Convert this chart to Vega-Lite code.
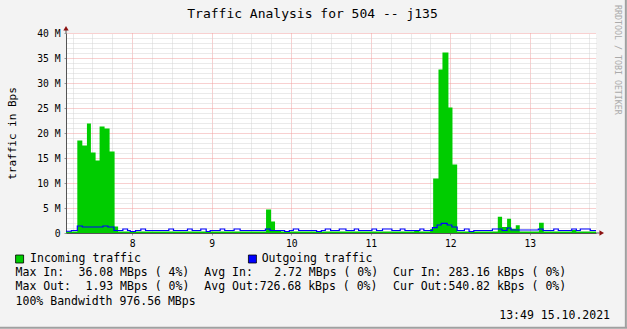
{
  "$schema": "https://vega.github.io/schema/vega-lite/v6.json",
  "width": 530,
  "height": 200,
  "autosize": {"type": "none"},
  "padding": {"left": 66, "top": 33, "right": 31, "bottom": 96},
  "background": "#F3F3F3",
  "config": {"view": {"fill": "#FFFFFF", "stroke": null}, "font": "DejaVu Sans Mono"},
  "layer": [
    {
      "resolve": {"axis": {"x": "independent", "y": "independent"}},
      "layer": [
        {
          "data": {"values": [
            {"t": 7.1667, "v": 0.3}, {"t": 7.309, "v": 18.5}, {"t": 7.372, "v": 17.5}, {"t": 7.430, "v": 21.9},
            {"t": 7.480, "v": 16.1}, {"t": 7.539, "v": 14.5}, {"t": 7.589, "v": 21.3}, {"t": 7.652, "v": 20.9},
            {"t": 7.715, "v": 16.3}, {"t": 7.778, "v": 1.3}, {"t": 7.822, "v": 0.3}, {"t": 9.683, "v": 4.7},
            {"t": 9.746, "v": 2.3}, {"t": 9.796, "v": 0.5}, {"t": 9.872, "v": 0.3}, {"t": 11.547, "v": 0.6},
            {"t": 11.609, "v": 0.3}, {"t": 11.747, "v": 0.8}, {"t": 11.785, "v": 10.9}, {"t": 11.852, "v": 32.7},
            {"t": 11.902, "v": 36.08}, {"t": 11.977, "v": 25.1}, {"t": 12.028, "v": 13.7}, {"t": 12.087, "v": 0.3},
            {"t": 12.598, "v": 3.26}, {"t": 12.652, "v": 1.2}, {"t": 12.715, "v": 2.86}, {"t": 12.765, "v": 0.86},
            {"t": 12.824, "v": 1.53}, {"t": 12.874, "v": 0.3}, {"t": 13.117, "v": 2.06}, {"t": 13.176, "v": 0.3},
            {"t": 13.528, "v": 0.6}, {"t": 13.586, "v": 0.3}, {"t": 13.8333, "v": 0.3}
          ]},
          "mark": {"type": "area", "interpolate": "step-after", "color": "#00CC00"},
          "encoding": {
            "x": {
              "field": "t", "type": "quantitative",
              "scale": {"domain": [7.1667, 13.8333], "nice": false, "zero": false},
              "axis": {
                "orient": "bottom",
                "title": null,
                "values": [8, 9, 10, 11, 12, 13],
                "grid": true,
                "gridColor": "#F0A0A0",
                "gridDash": [1, 1],
                "gridWidth": 1,
                "domainColor": "#555555",
                "domainWidth": 1,
                "ticks": true,
                "tickSize": 2,
                "tickColor": "#999999",
                "labelExpr": "(datum.value < 10 ? '\u00a0' : '') + datum.value",
                "labelFont": "DejaVu Sans Mono",
                "labelFontSize": 9.7,
                "labelColor": "#000000",
                "labelPadding": 3,
                "labelOverlap": false,
                "labelFlush": false
              }
            },
            "y": {
              "field": "v", "type": "quantitative",
              "scale": {"domain": [0, 40], "nice": false},
              "axis": {
                "orient": "left",
                "title": "traffic in Bps",
                "titleFont": "DejaVu Sans Mono",
                "titleFontSize": 11,
                "titleFontWeight": "normal",
                "titleColor": "#000000",
                "titleBaseline": "alphabetic",
                "titlePadding": 21.5,
                "values": [0, 5, 10, 15, 20, 25, 30, 35, 40],
                "grid": true,
                "gridColor": "#F0A0A0",
                "gridDash": [1, 1],
                "gridWidth": 1,
                "domainColor": "#555555",
                "domainWidth": 1,
                "ticks": true,
                "tickSize": 2,
                "tickColor": "#999999",
                "labelExpr": "datum.value === 0 ? '0' : datum.value + ' M'",
                "labelFont": "DejaVu Sans Mono",
                "labelFontSize": 9.7,
                "labelColor": "#000000",
                "labelPadding": 4,
                "labelOverlap": false,
                "labelFlush": false
              }
            }
          }
        },
        {
          "data": {"values": [
            {"t": 7.1667, "v": 0.35}, {"t": 7.234, "v": 0.5}, {"t": 7.309, "v": 1.4}, {"t": 7.372, "v": 1.2},
            {"t": 7.631, "v": 1.4}, {"t": 7.694, "v": 1.2}, {"t": 7.770, "v": 0.5}, {"t": 7.882, "v": 0.8},
            {"t": 7.941, "v": 0.5}, {"t": 7.975, "v": 0.3}, {"t": 8.041, "v": 0.5}, {"t": 8.108, "v": 0.8},
            {"t": 8.167, "v": 0.5}, {"t": 8.460, "v": 0.8}, {"t": 8.519, "v": 0.5}, {"t": 8.695, "v": 0.8},
            {"t": 8.754, "v": 0.5}, {"t": 8.862, "v": 0.8}, {"t": 8.930, "v": 0.3}, {"t": 8.980, "v": 0.5},
            {"t": 9.106, "v": 0.8}, {"t": 9.163, "v": 0.5}, {"t": 9.281, "v": 0.8}, {"t": 9.357, "v": 0.5},
            {"t": 9.675, "v": 0.8}, {"t": 9.734, "v": 0.5}, {"t": 9.917, "v": 0.3}, {"t": 9.976, "v": 0.5},
            {"t": 10.026, "v": 0.8}, {"t": 10.093, "v": 0.5}, {"t": 10.319, "v": 0.3}, {"t": 10.378, "v": 0.5},
            {"t": 10.428, "v": 0.8}, {"t": 10.495, "v": 0.5}, {"t": 10.604, "v": 0.8}, {"t": 10.688, "v": 0.5},
            {"t": 10.793, "v": 0.8}, {"t": 10.847, "v": 0.5}, {"t": 11.015, "v": 0.8}, {"t": 11.073, "v": 0.5},
            {"t": 11.148, "v": 0.8}, {"t": 11.266, "v": 0.5}, {"t": 11.371, "v": 0.8}, {"t": 11.430, "v": 0.5},
            {"t": 11.618, "v": 0.8}, {"t": 11.668, "v": 0.5}, {"t": 11.776, "v": 1.06}, {"t": 11.835, "v": 1.6},
            {"t": 11.886, "v": 1.93}, {"t": 11.961, "v": 1.6}, {"t": 12.020, "v": 1.2}, {"t": 12.087, "v": 0.5},
            {"t": 12.178, "v": 0.8}, {"t": 12.237, "v": 0.3}, {"t": 12.296, "v": 0.5}, {"t": 12.530, "v": 0.8},
            {"t": 12.652, "v": 0.5}, {"t": 12.715, "v": 1.0}, {"t": 12.765, "v": 0.6}, {"t": 13.108, "v": 0.8},
            {"t": 13.167, "v": 0.5}, {"t": 13.302, "v": 0.8}, {"t": 13.359, "v": 0.5}, {"t": 13.528, "v": 0.8},
            {"t": 13.586, "v": 0.5}, {"t": 13.636, "v": 0.8}, {"t": 13.761, "v": 0.5}, {"t": 13.8333, "v": 0.5}
          ]},
          "mark": {"type": "line", "interpolate": "step-after", "color": "#0000FF", "strokeWidth": 1.2},
          "encoding": {
            "x": {
              "field": "t", "type": "quantitative",
              "axis": {
                "orient": "top",
                "title": null,
                "values": [7.25, 7.5, 7.75, 8.25, 8.5, 8.75, 9.25, 9.5, 9.75, 10.25, 10.5, 10.75, 11.25, 11.5, 11.75, 12.25, 12.5, 12.75, 13.25, 13.5, 13.75],
                "grid": true,
                "gridColor": "#D4D4D4",
                "gridDash": [1, 1],
                "gridWidth": 1,
                "domain": false,
                "ticks": false,
                "labels": false
              }
            },
            "y": {
              "field": "v", "type": "quantitative",
              "axis": {
                "orient": "right",
                "title": null,
                "values": [1, 2, 3, 4, 6, 7, 8, 9, 11, 12, 13, 14, 16, 17, 18, 19, 21, 22, 23, 24, 26, 27, 28, 29, 31, 32, 33, 34, 36, 37, 38, 39],
                "grid": true,
                "gridColor": "#D4D4D4",
                "gridDash": [1, 1],
                "gridWidth": 1,
                "domain": false,
                "ticks": false,
                "labels": false
              }
            }
          }
        },
        {
          "data": {"values": [
            {"t": 7.1667, "v": 40, "t2": 7.1667, "v2": 40.9},
            {"t": 13.8333, "v": 0, "t2": 13.88, "v2": 0}
          ]},
          "mark": {"type": "rule", "color": "#555555", "strokeWidth": 1},
          "encoding": {
            "x": {"field": "t", "type": "quantitative", "axis": null},
            "y": {"field": "v", "type": "quantitative", "axis": null},
            "x2": {"field": "t2"},
            "y2": {"field": "v2"}
          }
        },
        {
          "data": {"values": [
            {"t": 7.1667, "v": 40.96, "s": "triangle-up"},
            {"t": 13.905, "v": 0, "s": "triangle-right"}
          ]},
          "mark": {"type": "point", "filled": true, "color": "#8B1010", "size": 28, "opacity": 1},
          "encoding": {
            "x": {"field": "t", "type": "quantitative", "axis": null},
            "y": {"field": "v", "type": "quantitative", "axis": null},
            "shape": {"field": "s", "type": "nominal", "scale": null}
          }
        }
      ]
    },
    {
      "encoding": {
        "x": {"field": "col", "type": "quantitative", "scale": {"domain": [7.21, 83.03], "nice": false, "zero": false}, "axis": null},
        "y": {"field": "line", "type": "quantitative", "scale": {"domain": [-15.915, -1.831], "nice": false, "zero": false, "reverse": true}, "axis": null}
      },
      "layer": [
        {
          "data": {"values": [
            {"col": -2.3, "line": 4.85, "col2": 87.6, "line2": 4.85},
            {"col": 87.3, "line": -18.3, "col2": 87.3, "line2": 4.85}
          ]},
          "mark": {"type": "rule", "color": "#A0A0A0", "strokeWidth": 2},
          "encoding": {
            "x2": {"field": "col2"},
            "y2": {"field": "line2"}
          }
        },
        {
          "data": {"values": [
            {"col": 42.47, "line": -16.97, "text": "Traffic Analysis for 504 -- j135"}
          ]},
          "mark": {"type": "text", "align": "center", "baseline": "alphabetic", "font": "DejaVu Sans Mono", "fontSize": 13, "color": "#000000"},
          "encoding": {"text": {"field": "text", "type": "nominal"}}
        },
        {
          "data": {"values": [
            {"col": 0.57, "line": 0, "series": "Incoming traffic"},
            {"col": 33.88, "line": 0, "series": "Outgoing traffic"}
          ]},
          "mark": {"type": "point", "shape": "square", "filled": true, "size": 64, "stroke": "#000000", "strokeWidth": 0.8, "opacity": 1},
          "encoding": {
            "color": {"field": "series", "type": "nominal", "scale": {"domain": ["Incoming traffic", "Outgoing traffic"], "range": ["#00CC00", "#0000FF"]}, "legend": null}
          }
        },
        {
          "data": {"values": [
            {"col": 2.07, "line": 0, "text": "Incoming traffic"},
            {"col": 35.2, "line": 0, "text": "Outgoing traffic"},
            {"col": 0, "line": 1, "text": "Max In:"},
            {"col": 9, "line": 1, "text": "36.08 MBps ( 4%)"},
            {"col": 27, "line": 1, "text": "Avg In:"},
            {"col": 37, "line": 1, "text": "2.72 MBps ( 0%)"},
            {"col": 54, "line": 1, "text": "Cur In: 283.16 kBps ( 0%)"},
            {"col": 0, "line": 2, "text": "Max Out:"},
            {"col": 10, "line": 2, "text": "1.93 MBps ( 0%)"},
            {"col": 27, "line": 2, "text": "Avg Out:726.68 kBps ( 0%)"},
            {"col": 54, "line": 2, "text": "Cur Out:540.82 kBps ( 0%)"},
            {"col": 0, "line": 3, "text": "100% Bandwidth 976.56 MBps"}
          ]},
          "mark": {"type": "text", "align": "left", "baseline": "middle", "font": "DejaVu Sans Mono", "fontSize": 11.5, "color": "#000000"},
          "encoding": {"text": {"field": "text", "type": "nominal"}}
        },
        {
          "data": {"values": [
            {"col": 85.04, "line": 4, "text": "13:49 15.10.2021"}
          ]},
          "mark": {"type": "text", "align": "right", "baseline": "middle", "font": "DejaVu Sans Mono", "fontSize": 11.5, "color": "#000000"},
          "encoding": {"text": {"field": "text", "type": "nominal"}}
        },
        {
          "data": {"values": [
            {"col": 86.04, "line": -17.89, "text": "RRDTOOL / TOBI OETIKER"}
          ]},
          "mark": {"type": "text", "align": "left", "baseline": "middle", "angle": 90, "font": "DejaVu Sans Mono", "fontSize": 8.3, "color": "#AAAAAA"},
          "encoding": {"text": {"field": "text", "type": "nominal"}}
        }
      ]
    }
  ],
  "resolve": {"scale": {"x": "independent", "y": "independent", "color": "independent"}}
}
